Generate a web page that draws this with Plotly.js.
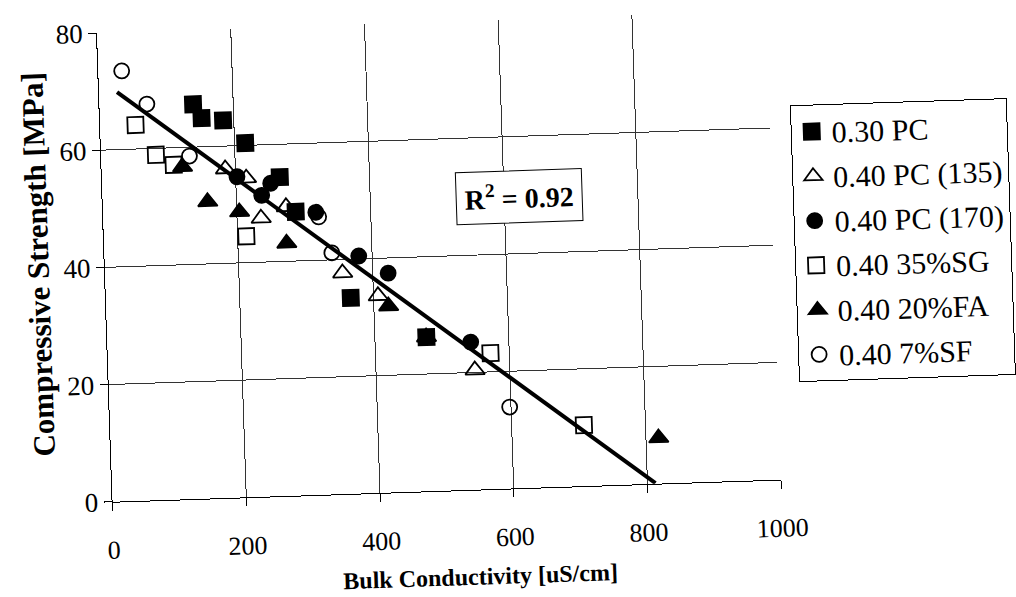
<!DOCTYPE html>
<html>
<head>
<meta charset="utf-8">
<script src="https://cdn.plot.ly/plotly-3.0.1.min.js"></script>
<style>
  html, body { margin: 0; padding: 0; background: #fff; overflow: hidden; width: 1016px; height: 597px; }
  #chart { width: 1016px; height: 660px; transform: rotate(-1.9deg); transform-origin: 97px 33px; }
</style>
</head>
<body>
<div id="chart"></div>
<script>
// Bulk conductivity [uS/cm] and compressive strength [MPa] per mixture
const pc30_x   = [140, 152, 184, 216, 266, 288, 366, 477];
const pc30_y   = [67.3, 64.9, 64.4, 60.4, 54.4, 48.4, 33.4, 26.3];

const pc135_x  = [185, 216, 274, 236, 355, 407, 548];
const pc135_y  = [56.1, 54.4, 49.3, 47.5, 37.7, 33.6, 20.4];

const pc170_x  = [202, 252, 238, 318, 380, 423, 543];
const pc170_y  = [54.7, 53.4, 51.4, 48.2, 40.5, 37.4, 25.2];

const sg35_x   = [53, 82, 108, 213, 572, 708];
const sg35_y   = [64.1, 58.9, 57.1, 44.5, 23.2, 10.4];

const fa20_x   = [121, 157, 204, 273, 422, 477, 819];
const fa20_y   = [56.7, 50.6, 48.7, 43.1, 31.8, 26.3, 7.8];

const sf7_x    = [35, 71, 132, 322, 340, 598];
const sf7_y    = [73.4, 67.6, 58.5, 47.4, 41.2, 13.9];

// Linear trendline: strength = intercept + slope * conductivity
const trendIntercept = 72.2;
const trendSlope = -0.0888;
const trendSpan = [27, 812];
const rSquared = "0.92";

const seriesNames = ["0.30 PC", "0.40 PC (135)", "0.40 PC (170)", "0.40 35%SG", "0.40 20%FA", "0.40 7%SF"];

const xTicks = [0, 200, 400, 600, 800, 1000];
const yTicks = [0, 20, 40, 60, 80];

const FONT = "Liberation Serif, Times New Roman, serif";

function pointTrace(name, xs, ys, symbol, size, idx) {
  return {
    type: "scatter", mode: "markers", name: name, x: xs, y: ys,
    legendgroup: "g" + idx,
    marker: { symbol: symbol, size: size, color: "#000", line: { color: "#000", width: 1.8 } },
    hoverinfo: "x+y+name"
  };
}

const trendX = trendSpan.slice();
const trendY = trendX.map(v => trendIntercept + trendSlope * v);

const data = [
  pointTrace(seriesNames[0], pc30_x, pc30_y, "square", 16, 0),
  pointTrace(seriesNames[1], pc135_x, pc135_y, "triangle-up-open", 17, 1),
  pointTrace(seriesNames[2], pc170_x, pc170_y, "circle", 15, 2),
  pointTrace(seriesNames[3], sg35_x, sg35_y, "square-open", 16, 3),
  pointTrace(seriesNames[4], fa20_x, fa20_y, "triangle-up", 17, 4),
  pointTrace(seriesNames[5], sf7_x, sf7_y, "circle-open", 15, 5),
  {
    type: "scatter", mode: "lines", x: trendX, y: trendY,
    line: { color: "#000", width: 4 }, showlegend: false, hoverinfo: "skip"
  }
];

const layout = {
  width: 1016, height: 660,
  margin: { l: 97, r: 246, t: 33, b: 158 },
  paper_bgcolor: "#fff", plot_bgcolor: "#fff",
  font: { family: FONT, color: "#000", size: 26 },
  showlegend: true,
  legend: {
    x: 1.0315, y: 0.797, xanchor: "left", yanchor: "top",
    bordercolor: "#000", borderwidth: 1, bgcolor: "#fff",
    font: { family: FONT, size: 30, color: "#000" },
    tracegroupgap: 2.6, traceorder: "grouped"
  },
  xaxis: {
    range: [0, 1000], tickvals: xTicks, ticktext: xTicks.map(String),
    showgrid: true, gridcolor: "#333", gridwidth: 1,
    showline: true, linecolor: "#000", linewidth: 1,
    zeroline: false, ticks: "outside", ticklen: 8, tickcolor: "#000",
    ticklabelstandoff: 17,
    tickfont: { family: FONT, size: 26, color: "#000" }
  },
  yaxis: {
    range: [0, 80], tickvals: yTicks, ticktext: yTicks.map(String),
    showgrid: true, gridcolor: "#333", gridwidth: 1,
    showline: true, linecolor: "#000", linewidth: 1,
    zeroline: false, ticks: "outside", ticklen: 8, tickcolor: "#000",
    tickfont: { family: FONT, size: 27, color: "#000" }
  },
  annotations: [
    {
      text: "<b>Bulk Conductivity [uS/cm]</b>", xref: "paper", yref: "paper",
      x: 0.547, y: -0.1855, xanchor: "center", yanchor: "middle", showarrow: false,
      font: { family: FONT, size: 24, color: "#000" }
    },
    {
      text: "<b>Compressive Strength [MPa]</b>", xref: "paper", yref: "paper",
      x: -0.099, y: 0.512, xanchor: "center", yanchor: "middle", showarrow: false,
      textangle: -90, font: { family: FONT, size: 31, color: "#000" }
    },
    {
      text: "<b>R<sup>2</sup> = " + rSquared + "</b>", xref: "x", yref: "y",
      x: 622, y: 49.8, xanchor: "center", yanchor: "middle", showarrow: false,
      bgcolor: "#fff", bordercolor: "#000", borderwidth: 1, borderpad: 8,
      font: { family: FONT, size: 28, color: "#000" }
    }
  ]
};

Plotly.newPlot("chart", data, layout, { displayModeBar: false, staticPlot: true });
</script>
</body>
</html>
